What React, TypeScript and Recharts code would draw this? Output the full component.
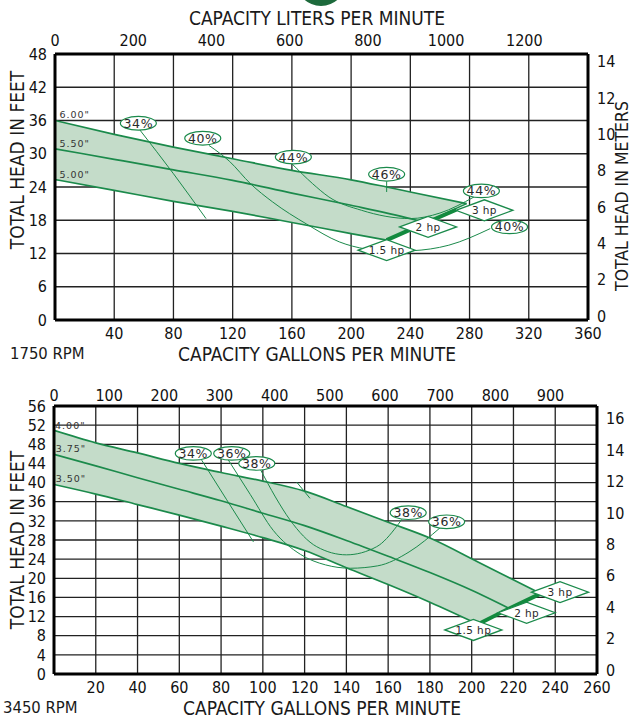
import React from 'react';
import { ComposedChart, Line, Area, Scatter, XAxis, YAxis, CartesianGrid } from 'recharts';

const GREEN = '#1b8a4b';
const BAND = '#c4dcc9';
const FONT = "'Liberation Sans Narrow', 'DejaVu Sans Condensed', 'Roboto Condensed', 'Liberation Sans', sans-serif";
const SMALL_FONT = "'DejaVu Sans', Verdana, sans-serif";
const LPM_PER_GPM = 3.78541;
const M_PER_FT = 0.3048;

// ---------------- 1750 RPM ----------------
const gpmTicks1750 = [40, 80, 120, 160, 200, 240, 280, 320, 360];
const ftTicks1750 = [0, 6, 12, 18, 24, 30, 36, 42, 48];
const lpmTicks1750 = [0, 200, 400, 600, 800, 1000, 1200];
const mTicks1750 = [0, 2, 4, 6, 8, 10, 12, 14];

const gpm600_1750 = [0, 40, 80, 120, 160, 200, 224, 240, 278];
const ft600_1750 = [36.0, 33.5, 31.2, 29.1, 27.0, 25.3, 24.0, 23.1, 21.0];
const gpm550_1750 = [0, 40, 80, 120, 160, 200, 240, 250];
const ft550_1750 = [30.9, 29.0, 27.1, 25.2, 22.9, 20.7, 18.3, 17.6];
const gpm500_1750 = [0, 40, 80, 120, 160, 200, 224];
const ft500_1750 = [25.35, 23.4, 21.4, 19.6, 17.6, 15.6, 14.4];
const edgeGpm1750 = [224, 240, 278];
const edgeFt1750 = [14.4, 16.3, 21.0];
const thickGpm1750 = [224, 240, 271];
const thickFt1750 = [14.4, 16.3, 19.9];

const eff34Gpm1750 = [57, 80, 102];
const eff34Ft1750 = [34.4, 26.4, 18.3];
const eff40Gpm1750 = [104, 118, 132, 147, 170, 192, 210, 225, 241, 266, 294];
const eff40Ft1750 = [31.5, 28.6, 24.6, 21.3, 17.3, 14.1, 12.8, 12.4, 12.5, 13.5, 16.5];
const eff44Gpm1750 = [160, 174, 185, 207, 240, 260, 283];
const eff44Ft1750 = [28.2, 24.6, 22.2, 19.8, 18.3, 19.3, 22.2];
const eff46Gpm1750 = [224, 224];
const eff46Ft1750 = [25.0, 23.1];

const bubbleGpm1750 = [56.3, 99.8, 161, 224, 288, 307];
const bubbleFt1750 = [35.5, 32.8, 29.4, 26.3, 23.3, 16.8];
const bubbleText1750 = ['34%', '40%', '44%', '46%', '44%', '40%'];

const hpGpm1750 = [224, 252, 290];
const hpFt1750 = [12.6, 16.8, 19.8];
const hpText = ['1.5 hp', '2 hp', '3 hp'];

const impLabelGpm1750 = [3, 3, 3];
const impLabelFt1750 = [37.0, 31.8, 26.3];
const impLabelText1750 = ['6.00"', '5.50"', '5.00"'];

// ---------------- 3450 RPM ----------------
const gpmTicks3450 = [20, 40, 60, 80, 100, 120, 140, 160, 180, 200, 220, 240, 260];
const ftTicks3450 = [0, 4, 8, 12, 16, 20, 24, 28, 32, 36, 40, 44, 48, 52, 56];
const lpmTicks3450 = [0, 100, 200, 300, 400, 500, 600, 700, 800, 900];
const mTicks3450 = [0, 2, 4, 6, 8, 10, 12, 14, 16];

const gpm400_3450 = [0, 20, 40, 60, 80, 100, 120, 140, 160, 180, 203, 218, 233];
const ft400_3450 = [50.9, 48.3, 46.2, 44.0, 42.1, 40.3, 38.2, 35.0, 31.7, 28.4, 23.4, 20.1, 16.8];
const gpm375_3450 = [0, 20, 40, 60, 80, 100, 120, 140, 160, 180, 200, 218];
const ft375_3450 = [45.9, 43.5, 41.0, 38.6, 36.2, 33.6, 31.0, 27.9, 24.6, 21.2, 17.5, 13.7];
const gpm350_3450 = [0, 20, 40, 60, 80, 100, 120, 140, 160, 180, 203];
const ft350_3450 = [39.6, 37.6, 35.4, 33.2, 30.9, 28.5, 25.8, 22.2, 18.7, 15.0, 10.4];
const edgeGpm3450 = [203, 218, 233];
const edgeFt3450 = [10.4, 13.7, 16.8];

const eff34Gpm3450 = [70.7, 82.7, 95.5];
const eff34Ft3450 = [44.7, 36.4, 27.6];
const eff36Gpm3450 = [83.5, 94, 105, 118, 130, 142, 155, 170, 185];
const eff36Ft3450 = [44.7, 37.5, 30.0, 25.0, 22.8, 22.1, 22.6, 25.5, 30.6];
const eff38Gpm3450 = [99, 106, 113, 125.8, 140, 154.5, 164, 166.5];
const eff38Ft3450 = [42.6, 37.0, 32.2, 26.6, 24.9, 26.6, 30.8, 32.3];
const eff40Gpm3450 = [116.2, 122.6];
const eff40Ft3450 = [40.1, 36.7];

const bubbleGpm3450 = [66.7, 85.1, 97.1, 169.6, 188];
const bubbleFt3450 = [46.1, 46.1, 44.0, 33.7, 31.8];
const bubbleText3450 = ['34%', '36%', '38%', '38%', '36%'];

const hpGpm3450 = [200.8, 226.3, 242.3];
const hpFt3450 = [9.2, 12.8, 17.1];

const impLabelGpm3450 = [0.5, 0.8, 0.8];
const impLabelFt3450 = [52.0, 47.2, 40.9];
const impLabelText3450 = ['4.00"', '3.75"', '3.50"'];

// ---------------- helpers ----------------
const pts = (xs: number[], ys: number[]) => xs.map((g, i) => ({ gpm: g, ft: ys[i] }));
const labeled = (xs: number[], ys: number[], t: string[]) => xs.map((g, i) => ({ gpm: g, ft: ys[i], label: t[i] }));
const valueAt = (xs: number[], ys: number[], g: number) => {
  const i = xs.indexOf(g);
  return i >= 0 ? ys[i] : undefined;
};
const bandRows = (topX: number[], topY: number[], lowX: number[], lowY: number[], edgeX: number[], edgeY: number[]) =>
  topX.map((g, i) => {
    const lo = valueAt(lowX, lowY, g);
    return { gpm: g, band: [lo !== undefined ? lo : valueAt(edgeX, edgeY, g), topY[i]] };
  });
// secondary-unit ticks expressed in the primary (gpm) units
const lpmAsGpm = (ticks: number[]) => ticks.map((v) => v / LPM_PER_GPM);
const fmtLpm = (v: number) => String(Math.round(v * LPM_PER_GPM));

const Bubble = (props: any) => {
  const { cx, cy, payload } = props;
  return (
    <g>
      <ellipse cx={cx} cy={cy} rx={18} ry={6.8} fill="#fff" stroke={GREEN} strokeWidth={1.2} />
      <text x={cx} y={cy} dy="0.36em" textAnchor="middle" fontSize={12.5} fontFamily={SMALL_FONT} fill="#2a2a2a" letterSpacing={0.6}>
        {payload.label}
      </text>
    </g>
  );
};

const Diamond = (props: any) => {
  const { cx, cy, payload } = props;
  const w = 28.5;
  const h = 10.5;
  return (
    <g>
      <polygon points={`${cx - w},${cy} ${cx},${cy - h} ${cx + w},${cy} ${cx},${cy + h}`} fill="#fff" stroke={GREEN} strokeWidth={1.3} />
      <text x={cx} y={cy} dy="0.36em" textAnchor="middle" fontSize={10.5} fontFamily={SMALL_FONT} fill="#2a2a2a" letterSpacing={0.4}>
        {payload.label}
      </text>
    </g>
  );
};

const ImpLabel = (props: any) => {
  const { cx, cy, payload } = props;
  return (
    <text x={cx} y={cy} dy="0.36em" textAnchor="start" fontSize={9.5} fontFamily={SMALL_FONT} fill="#333" letterSpacing={1}>
      {payload.label}
    </text>
  );
};

const tickStyle = { fill: '#111', fontSize: 16, fontFamily: FONT };
const rightTickStyle = { fill: '#111', fontSize: 16, fontFamily: FONT, dy: -4 };
const border = { stroke: '#000', strokeWidth: 3 };

const Title = ({ x, y, text, rotate, size = 19, align = 'center' }: any) => (
  <div
    style={{
      position: 'absolute',
      left: x,
      top: y,
      transform: `${align === 'center' ? 'translate(-50%, -50%)' : 'translate(0, -50%)'}${rotate ? ' rotate(-90deg)' : ''}`,
      whiteSpace: 'nowrap',
      fontFamily: FONT,
      fontSize: size,
      color: '#1a1a1a',
      lineHeight: 1,
    }}
  >
    {text}
  </div>
);

function Chart1750() {
  const band = bandRows(gpm600_1750, ft600_1750, gpm500_1750, ft500_1750, edgeGpm1750, edgeFt1750);
  return (
    <ComposedChart width={631} height={360} margin={{ top: 24, right: 3, bottom: 10, left: 15 }}>
      <CartesianGrid stroke="#222" strokeWidth={1.3} />
      <XAxis xAxisId={0} type="number" dataKey="gpm" domain={[0, 360]} ticks={gpmTicks1750} interval={0} allowDataOverflow
        height={30} axisLine={border} tickLine={false} tick={tickStyle} tickSize={6} tickMargin={2} />
      <XAxis xAxisId="top" orientation="top" type="number" dataKey="gpm" domain={[0, 360]} ticks={lpmAsGpm(lpmTicks1750)} tickFormatter={fmtLpm}
        interval={0} allowDataOverflow height={30} axisLine={border} tickLine={false} tick={tickStyle} tickSize={6} tickMargin={2} />
      <YAxis yAxisId={0} type="number" dataKey="ft" domain={[0, 48]} ticks={ftTicks1750} interval={0} allowDataOverflow
        width={40} axisLine={border} tickLine={false} tick={tickStyle} tickSize={6} tickMargin={2} />
      <YAxis yAxisId="m" orientation="right" type="number" domain={[0, 48 * M_PER_FT]} ticks={mTicks1750} interval={0} allowDataOverflow
        width={40} axisLine={border} tickLine={false} tick={rightTickStyle} tickSize={6} tickMargin={3} />
      <Area data={band} dataKey="band" type="linear" fill={BAND} fillOpacity={1} stroke="none" isAnimationActive={false} />
      <Line data={pts(gpm600_1750, ft600_1750)} dataKey="ft" type="monotone" stroke={GREEN} strokeWidth={1.7} dot={false} isAnimationActive={false} />
      <Line data={pts(gpm550_1750, ft550_1750)} dataKey="ft" type="monotone" stroke={GREEN} strokeWidth={1.7} dot={false} isAnimationActive={false} />
      <Line data={pts(gpm500_1750, ft500_1750)} dataKey="ft" type="monotone" stroke={GREEN} strokeWidth={1.7} dot={false} isAnimationActive={false} />
      <Line data={pts(edgeGpm1750, edgeFt1750)} dataKey="ft" type="linear" stroke={GREEN} strokeWidth={1.3} dot={false} isAnimationActive={false} />
      <Line data={pts(thickGpm1750, thickFt1750)} dataKey="ft" type="linear" stroke="#128a3e" strokeWidth={4} dot={false} isAnimationActive={false} />
      <Line data={pts(eff34Gpm1750, eff34Ft1750)} dataKey="ft" type="monotone" stroke={GREEN} strokeWidth={1} dot={false} isAnimationActive={false} />
      <Line data={pts(eff40Gpm1750, eff40Ft1750)} dataKey="ft" type="monotone" stroke={GREEN} strokeWidth={1} dot={false} isAnimationActive={false} />
      <Line data={pts(eff44Gpm1750, eff44Ft1750)} dataKey="ft" type="monotone" stroke={GREEN} strokeWidth={1} dot={false} isAnimationActive={false} />
      <Line data={pts(eff46Gpm1750, eff46Ft1750)} dataKey="ft" type="linear" stroke={GREEN} strokeWidth={1} dot={false} isAnimationActive={false} />
      <Scatter data={labeled(impLabelGpm1750, impLabelFt1750, impLabelText1750)} dataKey="ft" shape={ImpLabel} isAnimationActive={false} />
      <Scatter data={labeled(hpGpm1750, hpFt1750, hpText)} dataKey="ft" shape={Diamond} isAnimationActive={false} />
      <Scatter xAxisId="top" data={labeled(bubbleGpm1750, bubbleFt1750, bubbleText1750)} dataKey="ft" shape={Bubble} isAnimationActive={false} />
    </ComposedChart>
  );
}

function Chart3450() {
  const band = bandRows(gpm400_3450, ft400_3450, gpm350_3450, ft350_3450, edgeGpm3450, edgeFt3450);
  return (
    <ComposedChart width={631} height={359} margin={{ top: 16, right: 4, bottom: 15, left: 14 }}>
      <CartesianGrid stroke="#222" strokeWidth={1.3} />
      <XAxis xAxisId={0} type="number" dataKey="gpm" domain={[0, 260]} ticks={gpmTicks3450} interval={0} allowDataOverflow
        height={30} axisLine={border} tickLine={false} tick={tickStyle} tickSize={6} tickMargin={2} />
      <XAxis xAxisId="top" orientation="top" type="number" dataKey="gpm" domain={[0, 260]} ticks={lpmAsGpm(lpmTicks3450)} tickFormatter={fmtLpm}
        interval={0} allowDataOverflow height={30} axisLine={border} tickLine={false} tick={tickStyle} tickSize={4} tickMargin={1} />
      <YAxis yAxisId={0} type="number" dataKey="ft" domain={[0, 56]} ticks={ftTicks3450} interval={0} allowDataOverflow
        width={40} axisLine={border} tickLine={false} tick={tickStyle} tickSize={6} tickMargin={2} />
      <YAxis yAxisId="m" orientation="right" type="number" domain={[0, 56 * M_PER_FT]} ticks={mTicks3450} interval={0} allowDataOverflow
        width={30} axisLine={border} tickLine={false} tick={rightTickStyle} tickSize={6} tickMargin={3} />
      <Area data={band} dataKey="band" type="linear" fill={BAND} fillOpacity={1} stroke="none" isAnimationActive={false} />
      <Line data={pts(gpm400_3450, ft400_3450)} dataKey="ft" type="monotone" stroke={GREEN} strokeWidth={1.7} dot={false} isAnimationActive={false} />
      <Line data={pts(gpm375_3450, ft375_3450)} dataKey="ft" type="monotone" stroke={GREEN} strokeWidth={1.7} dot={false} isAnimationActive={false} />
      <Line data={pts(gpm350_3450, ft350_3450)} dataKey="ft" type="monotone" stroke={GREEN} strokeWidth={1.7} dot={false} isAnimationActive={false} />
      <Line data={pts(edgeGpm3450, edgeFt3450)} dataKey="ft" type="linear" stroke="#128a3e" strokeWidth={4} dot={false} isAnimationActive={false} />
      <Line data={pts(eff34Gpm3450, eff34Ft3450)} dataKey="ft" type="monotone" stroke={GREEN} strokeWidth={1} dot={false} isAnimationActive={false} />
      <Line data={pts(eff36Gpm3450, eff36Ft3450)} dataKey="ft" type="monotone" stroke={GREEN} strokeWidth={1} dot={false} isAnimationActive={false} />
      <Line data={pts(eff38Gpm3450, eff38Ft3450)} dataKey="ft" type="monotone" stroke={GREEN} strokeWidth={1} dot={false} isAnimationActive={false} />
      <Line data={pts(eff40Gpm3450, eff40Ft3450)} dataKey="ft" type="linear" stroke={GREEN} strokeWidth={1} dot={false} isAnimationActive={false} />
      <Scatter data={labeled(impLabelGpm3450, impLabelFt3450, impLabelText3450)} dataKey="ft" shape={ImpLabel} isAnimationActive={false} />
      <Scatter data={labeled(hpGpm3450, hpFt3450, hpText)} dataKey="ft" shape={Diamond} isAnimationActive={false} />
      <Scatter xAxisId="top" data={labeled(bubbleGpm3450, bubbleFt3450, bubbleText3450)} dataKey="ft" shape={Bubble} isAnimationActive={false} />
    </ComposedChart>
  );
}

export default function App() {
  return (
    <div style={{ position: 'absolute', left: 0, top: 0, width: 631, height: 719, background: '#fff', overflow: 'hidden' }}>
      <div style={{ position: 'absolute', left: 296, top: -44, width: 50, height: 50, borderRadius: '50%', background: '#1d6a3c' }} />
      <div style={{ position: 'absolute', left: 0, top: 0 }}>
        <Chart1750 />
      </div>
      <div style={{ position: 'absolute', left: 0, top: 360 }}>
        <Chart3450 />
      </div>
      <Title x={317} y={18} text="CAPACITY LITERS PER MINUTE" />
      <Title x={17} y={160} text="TOTAL HEAD IN FEET" rotate />
      <Title x={623} y={196} text="TOTAL HEAD IN METERS" rotate size={17.5} />
      <Title x={10} y={354} text="1750 RPM" align="left" size={16.5} />
      <Title x={317} y={354} text="CAPACITY GALLONS PER MINUTE" />
      <Title x={17} y={540} text="TOTAL HEAD IN FEET" rotate />
      <Title x={3} y={708} text="3450 RPM" align="left" size={16.5} />
      <Title x={322} y={708} text="CAPACITY GALLONS PER MINUTE" />
    </div>
  );
}
